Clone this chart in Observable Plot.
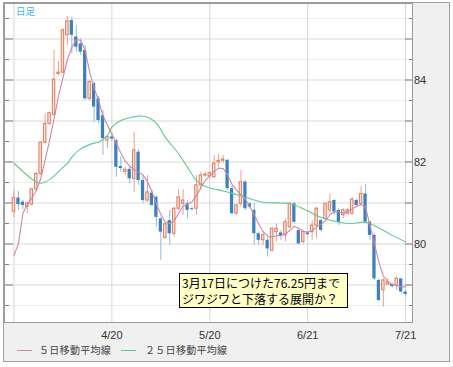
<!DOCTYPE html>
<html><head><meta charset="utf-8">
<script src="https://cdn.jsdelivr.net/npm/d3@7"></script>
<script src="https://cdn.jsdelivr.net/npm/@observablehq/plot@0.6"></script>
<style>
html,body{margin:0;padding:0;background:#fff;}
#wrap{position:relative;width:453px;height:367px;overflow:hidden;font-family:"Liberation Sans",Arial,sans-serif;}
#frame{position:absolute;left:3px;top:2px;width:447px;height:360px;box-sizing:border-box;border:1px solid #a0a0a0;background:#f0f0f0;}
#chart{position:absolute;left:0;top:0;}
#tag{position:absolute;left:16px;top:4px;font-size:9.5px;line-height:14px;font-family:"Noto Sans CJK JP",sans-serif;color:#3db5e6;}
#note{position:absolute;left:179px;top:273px;width:169px;height:35px;box-sizing:border-box;border:1px solid #000;background:#ffffc8;
  font-family:"Noto Sans CJK JP",sans-serif;font-size:12px;line-height:16px;padding:1px 0 0 2px;color:#000;white-space:nowrap;}
.lg{position:absolute;top:343px;font-family:"Noto Sans CJK JP",sans-serif;font-size:10px;line-height:14px;color:#444;letter-spacing:0.3px;white-space:nowrap;}
.sw{position:absolute;top:350px;height:1px;width:15px;}
</style></head>
<body>
<div id="wrap">
  <div id="frame"></div>
  <div id="chart"></div>
  <div id="tag"></div>
  <div id="note"></div>
  <div id="legend"></div>
</div>
<script>
// ---- data (USD/JPY daily) ----
const open  = [80.79,81.12,81.02,80.90,80.96,81.33,81.71,82.47,82.93,83.15,
               84.15,84.18,85.09,85.45,85.05,84.88,84.72,83.54,83.91,83.54,
               83.13,82.52,82.61,82.52,81.89,81.76,81.82,81.59,82.24,81.55,
               81.06,81.24,81.14,80.61,80.15,80.57,80.25,80.86,80.98,80.98,
               80.86,80.86,81.43,81.67,81.65,81.63,81.99,82.03,82.04,81.35,
               80.74,80.98,81.51,80.98,80.82,80.25,80.09,80.09,79.84,80.29,
               80.27,80.21,80.41,80.98,80.33,80.05,80.27,80.29,80.45,80.57,
               80.61,80.82,81.06,80.82,80.70,80.74,80.74,81.06,80.98,81.22,
               80.53,80.21,79.11,78.87,79.01,79.01,78.99,79.15,78.83];
const high  = [81.32,81.28,81.06,81.02,81.36,81.74,82.49,83.17,83.22,84.72,
               84.45,85.25,85.55,85.53,85.33,85.00,84.84,83.99,83.95,83.60,
               83.26,82.65,82.70,82.56,82.12,81.87,81.91,82.73,82.30,81.67,
               81.67,81.30,81.18,80.65,80.53,80.82,80.90,81.32,81.32,81.06,
               80.90,81.67,81.75,81.75,81.75,82.16,82.20,82.16,82.06,81.40,
               80.98,81.79,81.55,81.00,80.98,80.29,80.30,80.17,80.41,80.49,
               80.33,80.61,81.02,81.02,80.35,80.33,80.30,80.57,80.90,80.61,
               81.00,81.22,81.08,80.86,80.86,80.86,81.13,81.10,81.40,81.45,
               80.57,80.25,79.15,79.15,79.15,79.05,79.19,79.15,78.87];
const low   = [80.65,80.82,80.83,80.74,80.93,81.30,81.67,82.44,82.89,83.13,
               84.10,84.15,84.84,84.64,84.68,84.60,83.50,83.50,82.97,82.93,
               82.16,82.32,82.50,81.63,81.75,81.67,81.48,81.26,81.43,80.98,
               81.02,80.90,80.41,79.60,80.12,79.96,80.17,80.80,80.70,80.61,
               80.80,80.70,81.30,81.63,81.60,81.59,81.87,81.96,81.30,80.70,
               80.70,80.90,80.82,80.85,79.96,79.96,79.96,79.68,79.80,80.05,
               80.09,80.05,80.37,80.49,79.98,80.00,80.18,80.09,80.13,80.29,
               80.55,80.74,80.70,80.45,80.61,80.70,80.70,80.90,80.94,80.49,
               80.09,79.11,78.60,78.46,78.99,78.93,78.87,78.79,78.70];
const close = [81.12,80.96,80.94,80.99,81.33,81.71,82.47,82.93,83.19,84.01,
               84.18,85.21,85.43,85.09,84.80,84.68,83.54,83.95,83.34,83.01,
               82.57,82.61,82.56,81.87,81.84,81.81,81.59,82.28,81.55,81.06,
               81.26,80.94,80.65,80.29,80.48,80.25,80.86,81.14,81.06,80.82,
               80.84,81.43,81.67,81.69,81.73,81.96,82.03,82.06,81.35,80.74,
               80.94,81.51,80.86,80.90,80.25,80.09,80.21,79.88,80.37,80.37,
               80.18,80.53,80.98,80.53,80.00,80.29,80.23,80.45,80.86,80.33,
               80.98,81.02,80.78,80.53,80.82,80.82,81.08,80.94,81.22,80.53,
               80.21,79.15,78.62,79.11,79.07,78.96,79.15,78.83,78.77];
// 5-day moving average, one value per trading day
const ma5 = [79.72,80.01,80.75,80.97,81.12,81.30,81.59,82.05,82.52,83.05,
             83.60,84.05,84.50,84.80,84.98,84.97,84.72,84.20,83.80,83.52,
             83.12,82.90,82.68,82.45,82.22,82.02,81.90,81.81,81.75,81.68,
             81.52,81.28,80.98,80.72,80.53,80.50,80.57,80.75,80.92,80.97,
             81.03,81.18,81.38,81.55,81.66,81.77,81.85,81.84,81.68,81.45,
             81.32,81.20,81.09,80.92,80.70,80.49,80.30,80.19,80.17,80.20,
             80.21,80.25,80.33,80.43,80.38,80.31,80.29,80.32,80.42,80.48,
             80.57,80.72,80.78,80.78,80.75,80.80,80.85,80.92,80.96,80.90,
             80.45,80.00,79.55,79.22,79.08,79.01,78.98,78.96,78.95];
// 25-day moving average, read at these trading-day positions
const ma25Day = [0,5,6,8,11,12,13,15,18,19,21,22,24,26,28,30,32,34,37,39,41,43,46,49,52,56,60,62,65,69,73,76,79,82,85,88];
const ma25Val = [81.97,81.51,81.48,81.57,81.87,81.96,82.12,82.32,82.46,82.48,82.65,82.85,83.01,83.08,83.12,83.09,82.95,82.60,82.20,81.87,
                 81.55,81.40,81.32,81.24,81.14,81.02,81.00,80.98,80.86,80.65,80.53,80.50,80.53,80.39,80.21,80.05];
// axis ticks
const xTickDay   = [0, 22, 44, 66, 88];
const xTickLabel = ["", "4/20", "5/20", "6/21", "7/21"];
const yMajor = [79, 80, 81, 82, 83, 84, 85];
const yMinor = [78.5, 79.5, 80.5, 81.5, 82.5, 83.5, 84.5, 85.5];
const yLabels = [80, 82, 84];
const legendNames = ["５日移動平均線", "２５日移動平均線"];
const tagText = "日足";
const noteLines = ["3月17日につけた76.25円まで", "ジワジワと下落する展開か？"];

// ---- colours ----
const upStroke = "#e07a5c", upFill = "#fbe2d8", upWick = "#eca08a";
const dnFill = "#3d80be", dnWick = "#8dbbe0";
const ma5Color = "#cf86a8", ma25Color = "#5ccb8e";

const candles = open.map((o, i) => ({i, o, h: high[i], l: low[i], c: close[i], up: close[i] >= o}));
const ma5Data = ma5.map((v, i) => ({i, v}));
const ma25Data = ma25Day.map((d, k) => ({i: d, v: ma25Val[k]}));

const chart = Plot.plot({
  width: 453, height: 345,
  marginLeft: 4, marginRight: 41, marginTop: 3, marginBottom: 23,
  style: {background: "transparent", fontFamily: "Liberation Sans, Arial, sans-serif", fontSize: "11px", color: "#333", overflow: "visible"},
  x: {type: "linear", domain: [-2.13, 89.55]},
  y: {domain: [78.085, 85.866]},
  marks: [
    Plot.frame({fill: "#fff", stroke: null}),
    Plot.ruleY(yMinor, {stroke: "#ececec"}),
    Plot.ruleY(yMajor, {stroke: "#d9d9d9"}),
    Plot.ruleX(xTickDay, {stroke: "#d4d4d4"}),
    Plot.axisY(yMajor, {anchor: "left", tickSize: -9, fill: "none", stroke: "#808080", label: null}),
    Plot.axisY(yMinor, {anchor: "left", tickSize: -5, fill: "none", stroke: "#808080", label: null}),
    Plot.axisY(yMajor, {anchor: "right", tickSize: -8, fill: "none", stroke: "#808080", label: null}),
    Plot.axisY(yMinor, {anchor: "right", tickSize: -4, fill: "none", stroke: "#808080", label: null}),
    Plot.axisY(yLabels, {anchor: "right", tickSize: 0, tickPadding: 1.5, fill: "#333", label: null}),
    Plot.axisX(xTickDay.slice(1), {anchor: "bottom", tickSize: 0, tickPadding: 8.5, fill: "#333", label: null,
      tickFormat: d => xTickLabel[xTickDay.indexOf(d)]}),
    // wicks
    Plot.ruleX(candles, {filter: d => d.up, x: "i", y1: "l", y2: "h", stroke: upWick}),
    Plot.ruleX(candles, {filter: d => !d.up, x: "i", y1: "l", y2: "h", stroke: dnWick}),
    // bodies
    Plot.rect(candles, {filter: d => !d.up, x1: d => d.i - 0.5, x2: d => d.i + 0.5, y1: "o", y2: "c",
      fill: dnFill, insetLeft: 0.6, insetRight: 0.6}),
    Plot.rect(candles, {filter: d => d.up, x1: d => d.i - 0.5, x2: d => d.i + 0.5, y1: "o", y2: "c",
      fill: upFill, stroke: upStroke, strokeWidth: 1, insetLeft: 1, insetRight: 1}),
    // moving averages
    Plot.line(ma25Data, {x: "i", y: "v", stroke: ma25Color, strokeWidth: 1.1, curve: "catmull-rom"}),
    Plot.line(ma5Data, {x: "i", y: "v", stroke: ma5Color, strokeWidth: 1.1}),
    Plot.frame({stroke: "#9a9a9a"})
  ]
});
document.getElementById("chart").appendChild(chart);

document.getElementById("tag").textContent = tagText;
document.getElementById("note").innerHTML = noteLines.join("<br>");

const lg = document.getElementById("legend");
const swatchLeft = [17, 121], textLeft = [39, 145], colors = [ma5Color, ma25Color];
legendNames.forEach((name, k) => {
  const s = document.createElement("div");
  s.className = "sw"; s.style.left = swatchLeft[k] + "px"; s.style.background = colors[k];
  lg.appendChild(s);
  const t = document.createElement("div");
  t.className = "lg"; t.style.left = textLeft[k] + "px"; t.textContent = name;
  lg.appendChild(t);
});
</script>
</body></html>
